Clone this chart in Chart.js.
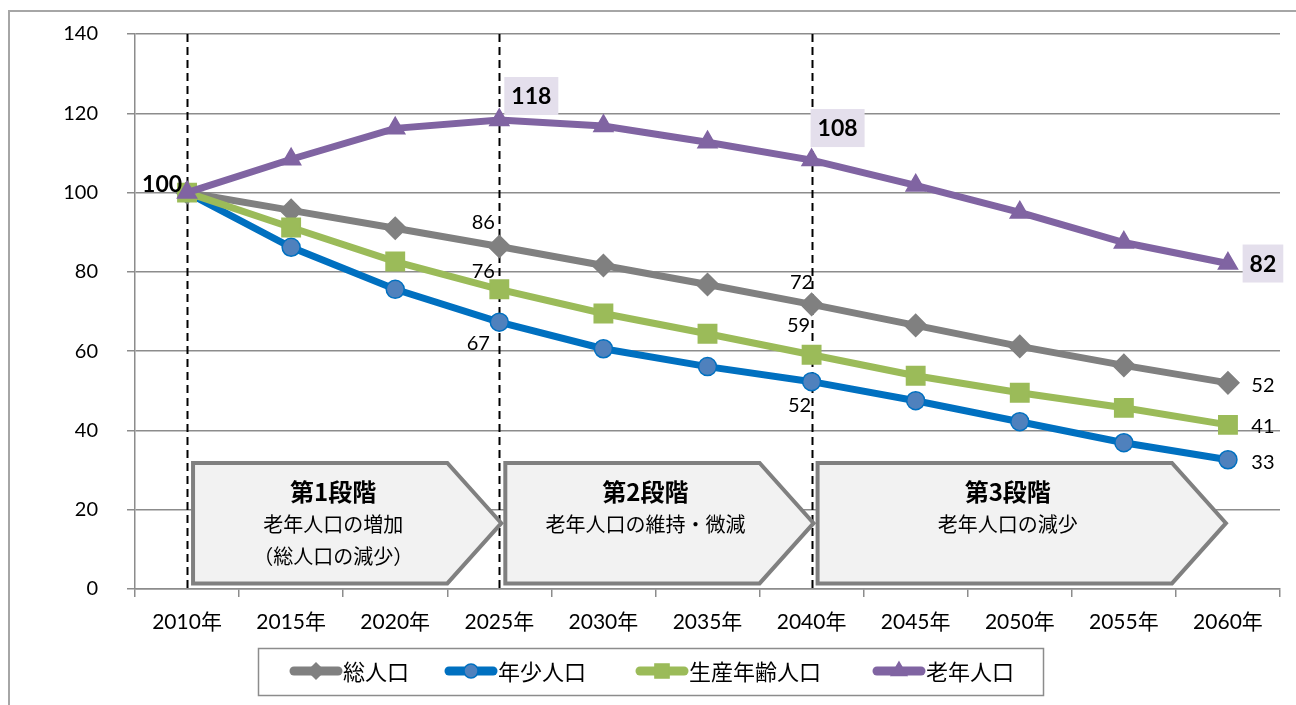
<!DOCTYPE html>
<html lang="ja">
<head>
<meta charset="utf-8">
<title>人口推移</title>
<script src="https://cdn.jsdelivr.net/npm/chart.js"></script>
<style>
  html, body { margin: 0; padding: 0; background: #fff; }
  #wrap { width: 1296px; height: 705px; position: relative; }
</style>
</head>
<body>
<div id="wrap"><canvas id="chart"></canvas></div>
<script>
  // ─── DATA ─────────────────────────────────────────────────────────────────
  const years = ['2010年', '2015年', '2020年', '2025年', '2030年', '2035年',
                 '2040年', '2045年', '2050年', '2055年', '2060年'];
  const seriesNames = ['総人口', '年少人口', '生産年齢人口', '老年人口'];
  const totalPop   = [100, 95.5, 91.0, 86.4, 81.6, 76.8, 71.8, 66.5, 61.2, 56.4, 52.0];
  const youthPop   = [100, 86.2, 75.6, 67.3, 60.6, 56.1, 52.3, 47.5, 42.2, 36.9, 32.6];
  const workingPop = [100, 91.2, 82.6, 75.6, 69.5, 64.4, 59.1, 53.8, 49.5, 45.7, 41.4];
  const elderlyPop = [100, 108.4, 116.2, 118.3, 116.8, 112.7, 108.2, 101.8, 95.0, 87.4, 82.1];
  const yTicks = [0, 20, 40, 60, 80, 100, 120, 140];
  const stageBreaks = [0, 3, 6];          // 破線の位置（カテゴリ番号）
  const stages = [
    { title: '第1段階', lines: ['老年人口の増加', '（総人口の減少）'], from: 0, to: 3 },
    { title: '第2段階', lines: ['老年人口の維持・微減'], from: 3, to: 6 },
    { title: '第3段階', lines: ['老年人口の減少'], from: 6, to: 10 },
  ];

  // ─── STYLE ────────────────────────────────────────────────────────────────
  const NUM_FONT = 'Lato, "Noto Sans CJK JP", sans-serif';
  const JP_FONT = '"Noto Sans CJK JP", sans-serif';
  const COLORS = {
    total:   { line: '#808080', fill: '#808080', border: '#808080', style: 'rectRot',  r: 11, lr: 8 },
    youth:   { line: '#0070C0', fill: '#4F81BD', border: '#0070C0', style: 'circle',   r: 9,  lr: 7 },
    working: { line: '#9BBB59', fill: '#9BBB59', border: '#9BBB59', style: 'rect',     r: 13, lr: 10 },
    elderly: { line: '#8064A2', fill: '#8064A2', border: '#8064A2', style: 'triangle', r: 11, lr: 9 },
  };
  const keys = ['total', 'youth', 'working', 'elderly'];

  // 値ラベル: [系列, 点, dx, dy, 太字, 背景]
  const valueLabels = [
    [3, 0, -25, -9,  true,  false],
    [3, 3,  32, -24, true,  true],
    [3, 6,  26, -32, true,  true],
    [3, 10, 35,  0,  true,  true],
    [0, 3, -16, -25, false, false],
    [0, 6, -10, -23, false, false],
    [0, 10, 35,  2,  false, false],
    [2, 3, -16, -19, false, false],
    [2, 6, -13, -30, false, false],
    [2, 10, 35,  1,  false, false],
    [1, 3, -21,  20, false, false],
    [1, 6, -12,  23, false, false],
    [1, 10, 35,  2,  false, false],
  ];

  // ─── PLUGINS ──────────────────────────────────────────────────────────────
  const frame = {
    id: 'frame',
    beforeDraw(chart) {
      const c = chart.ctx;
      c.save();
      c.fillStyle = '#fff';
      c.fillRect(0, 0, chart.width, chart.height);
      c.strokeStyle = '#a6a6a6';
      c.lineWidth = 2;
      c.strokeRect(9, 11, 1400, 800);
      c.restore();
    },
  };

  const stageArrows = {
    id: 'stageArrows',
    beforeDatasetsDraw(chart) {
      const c = chart.ctx, x = chart.scales.x, y = chart.scales.y;
      const top = y.getPixelForValue(31.8), bot = y.getPixelForValue(1.4);
      const mid = (top + bot) / 2;
      c.save();
      // 破線
      c.strokeStyle = '#000';
      c.lineWidth = 2;
      c.setLineDash([8, 5]);
      stageBreaks.forEach(i => {
        const px = Math.round(x.getPixelForValue(i)) + 0.5;
        c.beginPath();
        c.moveTo(px, chart.chartArea.top);
        c.lineTo(px, chart.chartArea.bottom);
        c.stroke();
      });
      c.setLineDash([]);
      stages.forEach((s, k) => {
        const left = x.getPixelForValue(s.from) + 6;
        const tip = x.getPixelForValue(s.to) + (k === 2 ? -2 : 2);
        const neck = tip - 54;
        c.beginPath();
        c.moveTo(left, top);
        c.lineTo(neck, top);
        c.lineTo(tip, mid);
        c.lineTo(neck, bot);
        c.lineTo(left, bot);
        c.closePath();
        c.fillStyle = '#f2f2f2';
        c.fill();
        c.strokeStyle = '#808080';
        c.lineWidth = 4;
        c.lineJoin = 'miter';
        c.stroke();
        const cx = (left + neck) / 2 + 13;
        c.fillStyle = '#000';
        c.textAlign = 'center';
        c.textBaseline = 'middle';
        c.font = 'bold 24px ' + JP_FONT;
        c.fillText(s.title, cx, top + 29);
        c.font = '20px ' + JP_FONT;
        s.lines.forEach((t, j) => c.fillText(t, cx, top + 61 + j * 32));
      });
      c.restore();
    },
  };

  const pointLabels = {
    id: 'pointLabels',
    afterDatasetsDraw(chart) {
      const c = chart.ctx;
      const data = [totalPop, youthPop, workingPop, elderlyPop];
      c.save();
      c.textAlign = 'center';
      c.textBaseline = 'middle';
      valueLabels.forEach(([ds, i, dx, dy, bold, box]) => {
        const pt = chart.getDatasetMeta(ds).data[i];
        const txt = String(Math.round(data[ds][i]));
        const tx = pt.x + dx, ty = pt.y + dy;
        c.font = (bold ? 'bold 23px ' : '20px ') + NUM_FONT;
        if (box) {
          const w = c.measureText(txt).width + 14;
          c.fillStyle = '#e4dfec';
          c.fillRect(tx - w / 2, ty - 19, w, 38);
        }
        c.fillStyle = '#000';
        c.fillText(txt, tx, ty + 1);
      });
      c.restore();
    },
  };

  const legendBox = {
    id: 'legendBox',
    afterDraw(chart) {
      const c = chart.ctx;
      const lineX = [290, 445, 636, 873];
      const cy = 671;
      c.save();
      c.strokeStyle = '#8c8c8c';
      c.lineWidth = 1.5;
      c.strokeRect(258.5, 648.5, 785, 47);
      keys.forEach((k, i) => {
        const st = COLORS[k];
        c.strokeStyle = st.line;
        c.lineWidth = 9;
        c.lineCap = 'round';
        c.beginPath();
        c.moveTo(lineX[i] + 4, cy);
        c.lineTo(lineX[i] + 48, cy);
        c.stroke();
        c.fillStyle = st.fill;
        c.strokeStyle = st.border;
        c.lineWidth = 1.5;
        Chart.helpers.drawPoint(c, { pointStyle: st.style, radius: st.lr, rotation: 0, borderWidth: 1.5 },
          lineX[i] + 26, cy);
        c.fillStyle = '#000';
        c.font = '22px ' + JP_FONT;
        c.textAlign = 'left';
        c.textBaseline = 'middle';
        c.fillText(seriesNames[i], lineX[i] + 53, cy + 1);
      });
      c.restore();
    },
  };

  // ─── CHART ────────────────────────────────────────────────────────────────
  function ds(label, data, key, order) {
    const st = COLORS[key];
    return {
      label, data, order,
      borderColor: st.line,
      borderWidth: 7,
      backgroundColor: st.fill,
      pointBackgroundColor: st.fill,
      pointBorderColor: st.border,
      pointBorderWidth: 1.5,
      pointStyle: st.style,
      pointRadius: st.r,
      pointHoverRadius: st.r,
      tension: 0,
      fill: false,
    };
  }

  new Chart(document.getElementById('chart'), {
    type: 'line',
    data: {
      labels: years,
      datasets: [
        ds(seriesNames[0], totalPop, 'total', 4),
        ds(seriesNames[1], youthPop, 'youth', 3),
        ds(seriesNames[2], workingPop, 'working', 2),
        ds(seriesNames[3], elderlyPop, 'elderly', 1),
      ],
    },
    options: {
      responsive: true,
      maintainAspectRatio: false,
      animation: false,
      devicePixelRatio: 1,
      layout: { autoPadding: false, padding: { left: 0, top: 34, right: 16, bottom: 66 } },
      plugins: { legend: { display: false }, tooltip: { enabled: false } },
      scales: {
        x: {
          type: 'category',
          offset: true,
          afterFit: s => { s.height = 50; s.paddingLeft = 0; s.paddingRight = 0; },
          grid: { offset: true, drawOnChartArea: false, tickLength: 8, color: '#8c8c8c', lineWidth: 1.5 },
          border: { color: '#8c8c8c', width: 1.5 },
          ticks: { color: '#000', font: { family: NUM_FONT, size: 21 }, padding: 13, maxRotation: 0 },
        },
        y: {
          min: 0, max: 140,
          // 目盛ラベル分の余白を詰めて描画領域を固定する
          afterFit: s => { s.width = 135; s.paddingTop = 0; s.paddingBottom = 0; },
          afterBuildTicks: s => { s.ticks = yTicks.map(v => ({ value: v })); },
          grid: { color: '#8c8c8c', lineWidth: 1.5, tickLength: 8 },
          border: { color: '#8c8c8c', width: 1.5 },
          ticks: { color: '#000', font: { family: NUM_FONT, size: 20 }, padding: 29 },
        },
      },
    },
    plugins: [frame, stageArrows, pointLabels, legendBox],
  });
</script>
</body>
</html>
